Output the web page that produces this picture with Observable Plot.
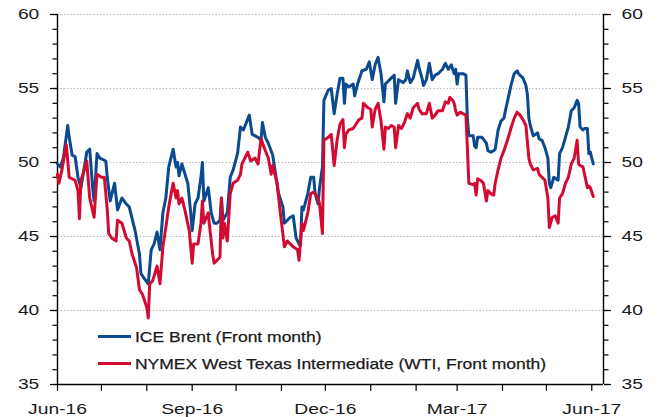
<!DOCTYPE html>
<html>
<head>
<meta charset="utf-8">
<script src="https://cdn.jsdelivr.net/npm/d3@7"></script>
<script src="https://cdn.jsdelivr.net/npm/@observablehq/plot@0.6"></script>
<style>
  html, body { margin: 0; padding: 0; background: #fff; }
  #chart { position: relative; width: 659px; height: 417px; }
  #legend { position: absolute; left: 98px; top: 323px; font-family: "Liberation Sans", Arial, sans-serif;
            font-size: 15px; color: #1a1a1a; }
  #legend .row { height: 27px; display: flex; align-items: center; white-space: nowrap; }
  #legend .sw { display: inline-block; width: 33px; height: 3px; margin-right: 4px; }
  #legend .lbl { display: inline-block; transform: scaleX(1.165); transform-origin: left center; -webkit-text-stroke: 0.25px #1a1a1a; }
  svg text { -webkit-text-stroke: 0.25px #1a1a1a; }
</style>
</head>
<body>
<div id="chart"><div id="legend"></div></div>
<script>
// ---------- data ----------
const xDomain = ["2016-06-01", "2017-06-09"];
const yDomain = [35, 60];
const yMajorTicks = [35, 40, 45, 50, 55, 60];
const xLabelDates = ["2016-06-01", "2016-09-01", "2016-12-01", "2017-03-01", "2017-06-01"];
const xTickLabels = ["Jun-16", "Sep-16", "Dec-16", "Mar-17", "Jun-17"];
const seriesNames = ["ICE Brent (Front month)", "NYMEX West Texas Intermediate (WTI, Front month)"];
const seriesColors = ["#0b4a8e", "#d20b33"];

const brentDates = [
"2016-06-01","2016-06-03","2016-06-05","2016-06-08","2016-06-09","2016-06-11","2016-06-13","2016-06-15","2016-06-17","2016-06-19",
"2016-06-21","2016-06-23","2016-06-25","2016-06-26","2016-06-28","2016-06-30","2016-07-04","2016-07-05","2016-07-07","2016-07-10",
"2016-07-12","2016-07-15","2016-07-18","2016-07-20","2016-07-24","2016-07-27","2016-07-28","2016-07-30","2016-08-02","2016-08-04",
"2016-08-06","2016-08-08","2016-08-10","2016-08-12","2016-08-14","2016-08-16","2016-08-19","2016-08-21","2016-08-22","2016-08-23",
"2016-08-25","2016-08-29","2016-08-31","2016-09-01","2016-09-03","2016-09-05","2016-09-07","2016-09-08","2016-09-09","2016-09-12",
"2016-09-14","2016-09-16","2016-09-18","2016-09-20","2016-09-21","2016-09-22","2016-09-25","2016-09-27","2016-09-29","2016-10-02",
"2016-10-04","2016-10-06","2016-10-10","2016-10-12","2016-10-16","2016-10-18","2016-10-19","2016-10-21","2016-10-23","2016-10-26",
"2016-10-28","2016-10-30","2016-11-02","2016-11-03","2016-11-05","2016-11-07","2016-11-09","2016-11-11","2016-11-13","2016-11-14",
"2016-11-15","2016-11-16","2016-11-19","2016-11-21","2016-11-23","2016-11-24","2016-11-26","2016-11-27","2016-11-29","2016-11-30",
"2016-12-03","2016-12-05","2016-12-07","2016-12-09","2016-12-11","2016-12-13","2016-12-14","2016-12-15","2016-12-17","2016-12-20",
"2016-12-21","2016-12-23","2016-12-26","2016-12-29","2016-12-31","2017-01-02","2017-01-04","2017-01-06","2017-01-08","2017-01-10",
"2017-01-11","2017-01-15","2017-01-17","2017-01-18","2017-01-20","2017-01-23","2017-01-25","2017-01-26","2017-01-28","2017-01-30",
"2017-02-02","2017-02-03","2017-02-05","2017-02-06","2017-02-08","2017-02-10","2017-02-12","2017-02-14","2017-02-16","2017-02-19",
"2017-02-21","2017-02-23","2017-02-25","2017-02-27","2017-02-28","2017-03-01","2017-03-02","2017-03-05","2017-03-07","2017-03-08",
"2017-03-09","2017-03-12","2017-03-13","2017-03-14","2017-03-15","2017-03-18","2017-03-21","2017-03-22","2017-03-24","2017-03-26",
"2017-03-27","2017-03-29","2017-03-31","2017-04-02","2017-04-03","2017-04-05","2017-04-07","2017-04-09","2017-04-11","2017-04-12",
"2017-04-15","2017-04-17","2017-04-18","2017-04-19","2017-04-20","2017-04-22","2017-04-25","2017-04-26","2017-04-28","2017-04-30",
"2017-05-02","2017-05-03","2017-05-04","2017-05-06","2017-05-09","2017-05-10","2017-05-12","2017-05-14","2017-05-16","2017-05-18",
"2017-05-20","2017-05-22","2017-05-23","2017-05-24","2017-05-26","2017-05-27","2017-05-29","2017-05-30","2017-05-31","2017-06-01",
"2017-06-02"];
const brentValues = [
49.9,49.7,50.3,52.5,51.7,50.5,50.4,49.0,48.3,49.5,
50.7,50.9,48.3,47.4,50.6,50.3,50.1,49.0,47.4,48.6,
46.8,47.6,47.2,47.0,45.4,43.8,42.5,42.2,41.8,44.1,
44.5,45.3,44.1,46.6,47.6,49.7,50.9,49.7,50.0,49.1,
49.9,48.6,46.6,45.4,47.2,47.6,49.0,50.0,47.4,48.3,
46.6,45.9,45.9,46.1,47.6,46.1,46.6,49.0,49.5,50.6,
52.4,52.2,53.2,51.9,51.7,51.5,52.7,51.7,51.3,50.5,
49.2,47.9,47.0,45.9,46.1,46.3,46.4,44.9,44.5,44.4,
47.0,46.8,47.9,49.0,49.0,47.9,47.2,48.3,49.7,54.2,
54.9,55.0,53.3,54.6,55.7,55.7,54.0,55.3,55.1,55.3,
54.5,55.3,56.2,56.3,56.8,55.6,56.6,57.1,56.0,54.1,
55.3,55.7,55.9,54.0,55.6,55.4,55.6,56.2,55.4,55.7,
56.9,56.4,55.7,55.2,55.6,56.7,55.6,55.9,56.0,56.3,
56.7,56.3,56.6,56.0,56.3,55.3,56.0,56.0,55.9,53.0,
51.8,51.8,51.1,51.0,51.7,51.7,51.3,50.8,50.7,50.8,
50.9,52.2,52.8,53.0,53.5,54.4,55.3,56.0,56.2,56.0,
55.7,55.2,54.6,53.0,52.5,51.8,52.0,51.6,51.5,51.0,
50.3,48.6,48.3,49.0,48.8,50.6,51.0,51.7,52.4,53.5,
53.7,54.2,54.0,52.4,52.2,52.3,52.3,50.6,50.7,50.3,
49.9];

const wtiDates = [
"2016-06-01","2016-06-02","2016-06-04","2016-06-07","2016-06-09","2016-06-13","2016-06-15","2016-06-16","2016-06-17","2016-06-19",
"2016-06-21","2016-06-23","2016-06-26","2016-06-28","2016-07-01","2016-07-03","2016-07-05","2016-07-06","2016-07-08","2016-07-11",
"2016-07-12","2016-07-15","2016-07-18","2016-07-20","2016-07-22","2016-07-25","2016-07-27","2016-07-29","2016-08-01","2016-08-02",
"2016-08-03","2016-08-05","2016-08-08","2016-08-10","2016-08-12","2016-08-14","2016-08-16","2016-08-18","2016-08-19","2016-08-21",
"2016-08-22","2016-08-23","2016-08-25","2016-08-27","2016-08-30","2016-09-01","2016-09-02","2016-09-05","2016-09-07","2016-09-08",
"2016-09-09","2016-09-12","2016-09-13","2016-09-15","2016-09-16","2016-09-18","2016-09-20","2016-09-21","2016-09-22","2016-09-23",
"2016-09-25","2016-09-27","2016-09-29","2016-10-02","2016-10-04","2016-10-05","2016-10-09","2016-10-11","2016-10-14","2016-10-16",
"2016-10-18","2016-10-21","2016-10-23","2016-10-25","2016-10-26","2016-10-29","2016-10-31","2016-11-03","2016-11-05","2016-11-07",
"2016-11-09","2016-11-12","2016-11-13","2016-11-15","2016-11-16","2016-11-19","2016-11-21","2016-11-23","2016-11-26","2016-11-27",
"2016-11-29","2016-11-30","2016-12-03","2016-12-05","2016-12-07","2016-12-09","2016-12-11","2016-12-13","2016-12-14","2016-12-15",
"2016-12-17","2016-12-20","2016-12-22","2016-12-24","2016-12-26","2016-12-27","2016-12-30","2017-01-01","2017-01-02","2017-01-04",
"2017-01-06","2017-01-08","2017-01-10","2017-01-11","2017-01-13","2017-01-15","2017-01-17","2017-01-18","2017-01-20","2017-01-22",
"2017-01-24","2017-01-26","2017-01-28","2017-01-30","2017-02-02","2017-02-03","2017-02-05","2017-02-08","2017-02-10","2017-02-12",
"2017-02-14","2017-02-16","2017-02-19","2017-02-21","2017-02-23","2017-02-24","2017-02-26","2017-02-27","2017-02-28","2017-03-01",
"2017-03-03","2017-03-07","2017-03-08","2017-03-09","2017-03-12","2017-03-13","2017-03-14","2017-03-15","2017-03-17","2017-03-19",
"2017-03-21","2017-03-22","2017-03-24","2017-03-26","2017-03-27","2017-03-29","2017-03-31","2017-04-02","2017-04-05","2017-04-07",
"2017-04-09","2017-04-11","2017-04-13","2017-04-15","2017-04-17","2017-04-19","2017-04-20","2017-04-22","2017-04-25","2017-04-26",
"2017-04-28","2017-04-30","2017-05-02","2017-05-03","2017-05-05","2017-05-07","2017-05-09","2017-05-10","2017-05-12","2017-05-14",
"2017-05-16","2017-05-18","2017-05-20","2017-05-22","2017-05-23","2017-05-24","2017-05-26","2017-05-29","2017-05-30","2017-05-31",
"2017-06-02"];
const wtiValues = [
49.2,48.6,49.5,51.2,49.0,48.8,48.1,46.2,48.8,49.4,
50.1,47.6,46.3,49.2,49.0,49.0,46.8,45.2,44.9,44.7,
46.1,45.9,44.9,44.7,43.8,42.9,41.4,41.1,40.2,39.5,
41.8,42.0,43.0,41.8,44.3,45.6,47.0,48.1,48.6,47.6,
48.1,47.2,47.6,46.8,45.4,43.2,44.5,44.5,45.9,47.4,
45.9,46.6,45.6,43.8,43.2,43.4,43.6,47.6,44.9,45.9,
44.7,47.9,48.6,48.8,49.2,49.9,50.7,50.1,50.3,49.9,
51.6,50.8,50.3,49.2,49.8,48.6,46.8,44.3,44.7,44.5,
44.3,44.1,43.4,45.9,45.4,46.6,47.9,48.0,47.6,47.2,
45.2,51.5,51.7,51.9,49.8,51.5,52.6,52.9,51.0,51.9,
52.2,52.3,52.6,52.9,53.0,54.0,53.7,53.6,52.4,53.6,
54.0,52.8,50.9,52.4,52.3,52.5,52.4,51.0,52.5,52.3,
52.7,53.3,53.0,53.7,54.0,53.6,53.3,53.3,54.0,53.0,
53.2,53.5,53.5,54.1,54.0,54.4,54.2,54.0,53.5,53.2,
53.4,53.2,51.0,48.6,48.5,48.6,47.8,48.9,48.8,48.6,
47.4,48.1,47.9,47.8,48.6,49.5,50.3,50.8,51.7,52.4,
53.0,53.4,53.2,52.9,52.5,50.3,49.9,49.5,49.6,49.2,
49.0,48.8,47.6,45.6,46.3,46.4,45.9,47.6,47.9,48.6,
49.0,49.9,50.3,51.5,49.9,49.8,49.7,48.3,48.4,48.3,
47.7];

// ---------- build ----------
const parse = d3.utcParse("%Y-%m-%d");
const brent = brentDates.map((d, i) => ({date: parse(d), value: brentValues[i]}));
const wti = wtiDates.map((d, i) => ({date: parse(d), value: wtiValues[i]}));
const x0 = parse(xDomain[0]), x1 = parse(xDomain[1]);
const monthTicks = d3.utcMonth.range(x0, x1);
const labelTimes = xLabelDates.map(d => +parse(d));
const xFmt = d => { const i = labelTimes.indexOf(+d); return i >= 0 ? xTickLabels[i] : ""; };
const yMinorTicks = d3.range(yDomain[0], yDomain[1] + 1, 1);

const chart = Plot.plot({
  width: 659,
  height: 417,
  marginLeft: 57,
  marginRight: 56,
  marginTop: 14,
  marginBottom: 33,
  x: {type: "utc", domain: [x0, x1]},
  y: {domain: yDomain},
  style: {fontFamily: "'Liberation Sans', Arial, sans-serif", fontSize: "15.4px", color: "#1a1a1a", background: "#fff", overflow: "visible"},
  marks: [
    Plot.gridY(yMajorTicks.slice(1), {stroke: "#b8b8b8", strokeOpacity: 1, strokeWidth: 1, strokeDasharray: "1.5,1.8"}),
    Plot.axisY(yMinorTicks, {anchor: "left", tickSize: 4.5, tickFormat: () => "", label: null, stroke: "#000", strokeWidth: 1.2}),
    Plot.axisY(yMajorTicks, {anchor: "left", tickSize: 7, tickPadding: 11.2, label: null, stroke: "#000", strokeWidth: 1.2}),
    Plot.axisY(yMinorTicks, {anchor: "right", tickSize: 4.5, tickFormat: () => "", label: null, stroke: "#000", strokeWidth: 1.2}),
    Plot.axisY(yMajorTicks, {anchor: "right", tickSize: 7, tickPadding: 11, label: null, stroke: "#000", strokeWidth: 1.2}),
    Plot.axisX(monthTicks, {anchor: "bottom", tickSize: 7, tickPadding: 12, tickFormat: xFmt, label: null, stroke: "#000", strokeWidth: 1.2}),
    Plot.ruleX([x0], {stroke: "#000", strokeWidth: 1.4}),
    Plot.ruleX([x1], {stroke: "#000", strokeWidth: 1.4}),
    Plot.ruleY([yDomain[0]], {stroke: "#000", strokeWidth: 1.4}),
    Plot.line(brent, {x: "date", y: "value", stroke: seriesColors[0], strokeWidth: 3}),
    Plot.line(wti, {x: "date", y: "value", stroke: seriesColors[1], strokeWidth: 3})
  ]
});

// widen the tick-label glyphs horizontally (the reference uses a wide face), keeping each label's anchor point
const numRe = /^\s*-?\d+(\.\d+)?\s*$/;
chart.querySelectorAll("text").forEach(t => {
  const xa = t.getAttribute("x");
  const tr = t.getAttribute("transform") || "";
  if (xa == null) {
    t.setAttribute("transform", `${tr} scale(1.25,1)`);
  } else if (numRe.test(xa)) {
    t.removeAttribute("x");
    t.setAttribute("transform", `${tr} translate(${parseFloat(xa)},0) scale(1.25,1)`);
  }
});

const container = document.getElementById("chart");
container.insertBefore(chart, container.firstChild);

const legend = document.getElementById("legend");
seriesNames.forEach((name, i) => {
  const row = document.createElement("div");
  row.className = "row";
  const sw = document.createElement("span");
  sw.className = "sw";
  sw.style.background = seriesColors[i];
  const t = document.createElement("span");
  t.className = "lbl";
  t.textContent = name;
  row.appendChild(sw);
  row.appendChild(t);
  legend.appendChild(row);
});
</script>
</body>
</html>
